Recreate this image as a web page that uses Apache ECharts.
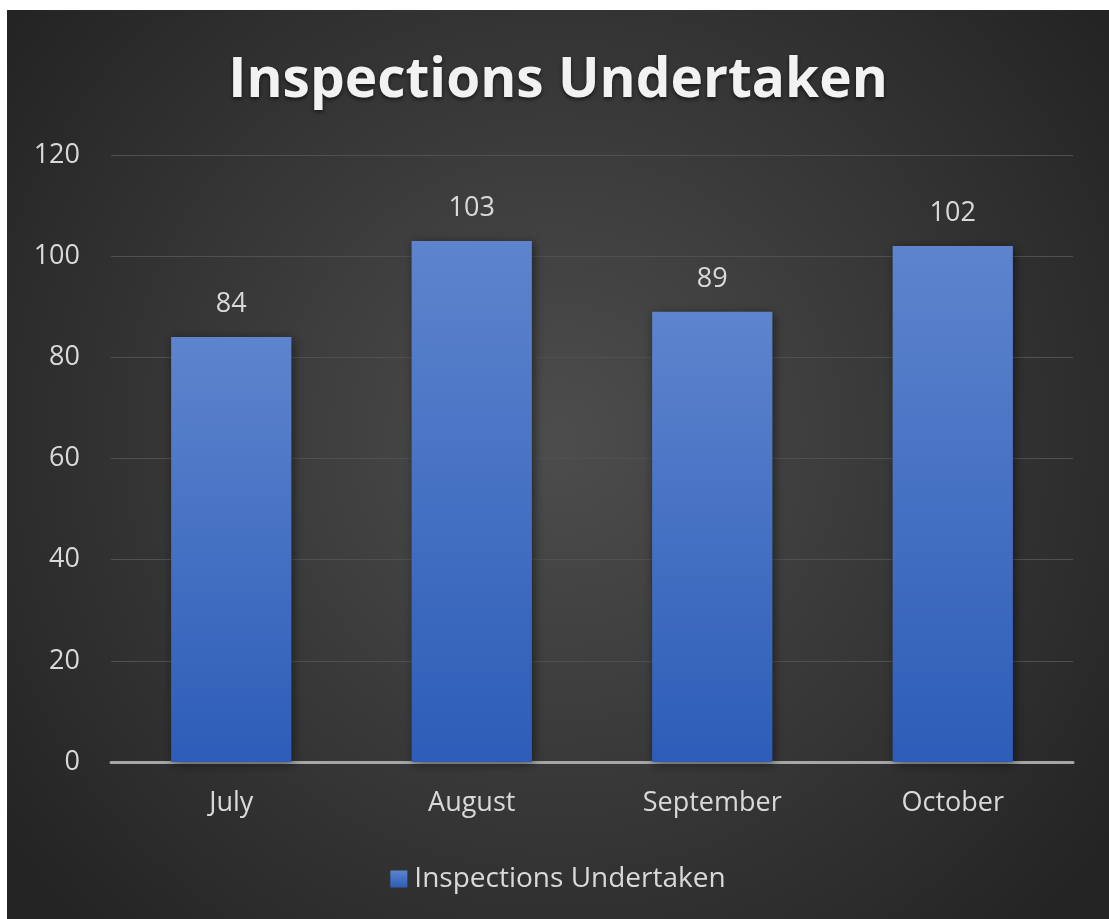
<!DOCTYPE html>
<html>
<head>
<meta charset="utf-8">
<script src="https://cdn.jsdelivr.net/npm/echarts@6/dist/echarts.min.js"></script>
<style>
  html, body { margin: 0; padding: 0; background: #ffffff; }
  #chart { position: absolute; left: 7px; top: 10px; width: 1102px; height: 909px; }
</style>
</head>
<body>
<div id="chart"></div>
<script>
var months = ["July", "August", "September", "October"];
var inspections = [84, 103, 89, 102];
var seriesName = "Inspections Undertaken";

var FONT = "Open Sans";
var chart = echarts.init(document.getElementById("chart"));
var option = {
    backgroundColor: {
        type: "radial", x: 0.5, y: 0.47, r: 0.75,
        colorStops: [
            { offset: 0, color: "#4d4d4d" },
            { offset: 1, color: "#242424" }
        ]
    },
    title: {
        text: "Inspections Undertaken",
        left: "center",
        top: 44,
        padding: 0,
        textStyle: {
            fontFamily: FONT, fontSize: 55, fontWeight: "bold", color: "#f2f2f2",
            textShadowColor: "rgba(0,0,0,0.6)", textShadowBlur: 4, textShadowOffsetY: 2
        }
    },
    legend: {
        bottom: 21,
        left: "center",
        itemWidth: 17, itemHeight: 17, itemGap: 8,
        icon: "rect",
        textStyle: { fontFamily: FONT, fontSize: 28, color: "#d9d9d9", padding: [0, 0, 0, 2] },
        data: [seriesName]
    },
    grid: { left: 104, right: 36, top: 145, bottom: 157 },
    xAxis: {
        type: "category",
        data: months,
        axisTick: { show: false },
        axisLine: { lineStyle: { color: "#a6a6a6", width: 3 } },
        axisLabel: { fontFamily: FONT, fontSize: 27, color: "#d9d9d9", margin: 28 }
    },
    yAxis: {
        type: "value",
        min: 0, max: 120, interval: 20,
        axisLine: { show: false },
        axisTick: { show: false },
        splitLine: { lineStyle: { color: "#505050", width: 1 } },
        axisLabel: { fontFamily: FONT, fontSize: 27, color: "#d9d9d9", margin: 31 }
    },
    series: [{
        name: seriesName,
        type: "bar",
        data: inspections,
        barWidth: "50%",
        itemStyle: {
            color: {
                type: "linear", x: 0, y: 0, x2: 0, y2: 1,
                colorStops: [
                    { offset: 0, color: "#5d84cd" },
                    { offset: 1, color: "#2d5db8" }
                ]
            },
            shadowColor: "rgba(0,0,0,0.5)", shadowBlur: 10, shadowOffsetX: 2, shadowOffsetY: 2
        },
        label: {
            show: true, position: "top", distance: 19,
            fontFamily: FONT, fontSize: 27, color: "#d9d9d9"
        }
    }]
};
chart.setOption(option);
</script>
</body>
</html>
